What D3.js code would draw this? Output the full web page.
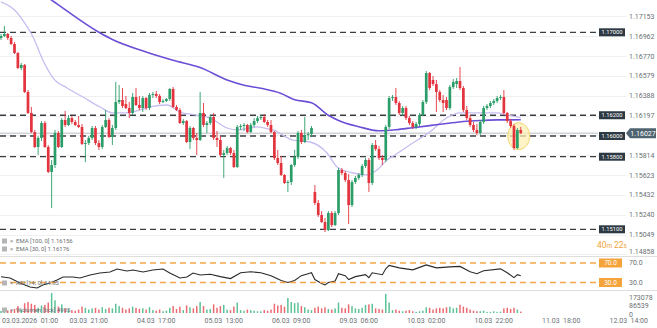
<!DOCTYPE html>
<html><head><meta charset="utf-8">
<script src="https://cdn.jsdelivr.net/npm/d3@7"></script>
<style>
body{margin:0;background:#fff}
svg{display:block;font-family:Roboto,"Noto Sans",sans-serif}
</style>
</head><body>
<svg id="chart" width="657" height="328"></svg>
<script>
// EURUSD H1 candles
const openP=[1.16945,1.16964,1.16984,1.16945,1.16887,1.168,1.16656,1.16685,1.16424,1.16222,1.16038,1.15894,1.15981,1.16125,1.15894,1.15653,1.1572,1.16029,1.15894,1.16154,1.16106,1.16173,1.16135,1.16106,1.16087,1.15923,1.15932,1.15981,1.16077,1.15932,1.15894,1.16087,1.16154,1.1599,1.16077,1.16328,1.16347,1.16308,1.1627,1.16222,1.16376,1.16299,1.1627,1.16366,1.1627,1.16395,1.16405,1.16386,1.16328,1.16337,1.16357,1.16453,1.1628,1.16251,1.16125,1.16144,1.15942,1.16077,1.15981,1.15961,1.16222,1.16106,1.16125,1.16183,1.15981,1.15961,1.15817,1.15836,1.15884,1.15836,1.15701,1.16087,1.16096,1.16106,1.16038,1.16106,1.16144,1.16173,1.16183,1.16135,1.16106,1.16038,1.15788,1.15739,1.15624,1.15547,1.15556,1.1572,1.15797,1.16029,1.15942,1.16009,1.16019,1.1546,1.15354,1.15238,1.1517,1.15093,1.15257,1.15141,1.15257,1.15672,1.15643,1.15575,1.15334,1.15556,1.15595,1.15624,1.1571,1.15768,1.15547,1.15913,1.15874,1.15788,1.15768,1.16087,1.16366,1.16376,1.16318,1.16222,1.1627,1.16173,1.16125,1.16087,1.16116,1.16202,1.16328,1.16607,1.1654,1.16501,1.16424,1.16347,1.16347,1.1627,1.16472,1.16501,1.1653,1.16463,1.16251,1.16173,1.16106,1.16058,1.16029,1.16135,1.1627,1.16289,1.16318,1.16337,1.16366,1.16376,1.16222,1.16144,1.16096,1.15884,1.16058];
const highP=[1.16984,1.17061,1.16993,1.16964,1.16906,1.1681,1.16704,1.16694,1.16443,1.1628,1.16058,1.16,1.16144,1.16144,1.15913,1.15768,1.16058,1.16048,1.16173,1.16241,1.16202,1.16193,1.16154,1.16193,1.16116,1.15961,1.16,1.16096,1.16096,1.15961,1.16106,1.16251,1.16173,1.16106,1.16521,1.16492,1.16463,1.16386,1.16328,1.16415,1.16463,1.16386,1.16386,1.16376,1.16415,1.16424,1.16434,1.16405,1.16357,1.16366,1.16463,1.16472,1.16299,1.1627,1.16164,1.16154,1.16096,1.16087,1.16029,1.16424,1.16318,1.16144,1.16202,1.16222,1.16048,1.16,1.15865,1.15903,1.15894,1.15865,1.16106,1.16116,1.16125,1.16116,1.16125,1.16173,1.16193,1.16202,1.16212,1.16154,1.16154,1.16048,1.15865,1.15807,1.15633,1.15575,1.1573,1.15865,1.16048,1.16058,1.16183,1.16038,1.16096,1.15527,1.15383,1.15276,1.15209,1.15276,1.15276,1.15276,1.15691,1.15691,1.15662,1.15633,1.15575,1.15614,1.15643,1.1573,1.15788,1.15788,1.15932,1.15961,1.15903,1.15817,1.16106,1.16386,1.16395,1.16463,1.16337,1.16289,1.16289,1.16193,1.16144,1.16135,1.16222,1.16347,1.16627,1.16617,1.16578,1.1654,1.16443,1.16395,1.16376,1.16492,1.1655,1.16559,1.16665,1.16482,1.16289,1.16202,1.16135,1.16116,1.16154,1.16289,1.16308,1.16337,1.16357,1.16386,1.16395,1.16443,1.16231,1.16164,1.16116,1.16077,1.16087];
const lowP=[1.16926,1.16955,1.16926,1.16878,1.16791,1.16646,1.16636,1.16415,1.16212,1.16029,1.15884,1.15817,1.15952,1.15884,1.15643,1.15305,1.15691,1.15884,1.15884,1.16087,1.16096,1.16116,1.16096,1.16077,1.15913,1.15749,1.15913,1.15961,1.15913,1.15865,1.15874,1.16077,1.15981,1.15913,1.16058,1.16308,1.1627,1.1626,1.16173,1.16202,1.16289,1.16251,1.16231,1.16251,1.16251,1.16366,1.16366,1.16308,1.16318,1.16328,1.16337,1.1627,1.16241,1.16116,1.16106,1.15932,1.15874,1.15961,1.15817,1.15952,1.16087,1.16029,1.16106,1.15961,1.15894,1.15797,1.15595,1.15817,1.15817,1.15691,1.15691,1.16058,1.16048,1.16029,1.16029,1.16087,1.16125,1.16154,1.16125,1.16087,1.16029,1.15768,1.1572,1.15614,1.15537,1.1546,1.15527,1.15701,1.15778,1.15923,1.15932,1.15961,1.1599,1.15334,1.15219,1.15161,1.15074,1.15083,1.15122,1.15132,1.15238,1.15624,1.15556,1.15151,1.15315,1.15537,1.15575,1.15604,1.15691,1.1546,1.15527,1.15855,1.15768,1.1572,1.15749,1.16067,1.16337,1.16299,1.16202,1.16193,1.16154,1.16106,1.16067,1.16067,1.16096,1.16193,1.16308,1.16443,1.16482,1.16231,1.16328,1.16231,1.16251,1.16251,1.16453,1.16463,1.16443,1.16231,1.16154,1.16087,1.16038,1.16009,1.16009,1.16116,1.16251,1.1627,1.16299,1.16318,1.16347,1.16202,1.16125,1.16077,1.15865,1.15874,1.16019];
const closeP=[1.16964,1.16984,1.16945,1.16887,1.168,1.16656,1.16685,1.16424,1.16222,1.16038,1.15894,1.15981,1.16125,1.15894,1.15653,1.1572,1.16029,1.15894,1.16154,1.16106,1.16173,1.16135,1.16106,1.16087,1.15923,1.15932,1.15981,1.16077,1.15932,1.15894,1.16087,1.16154,1.1599,1.16077,1.16328,1.16347,1.16289,1.1627,1.16222,1.16376,1.16299,1.1627,1.16366,1.1627,1.16395,1.16405,1.16386,1.16328,1.16337,1.16357,1.16453,1.1628,1.16251,1.16125,1.16144,1.15942,1.16077,1.15981,1.15961,1.16222,1.16106,1.16125,1.16183,1.15981,1.15961,1.15817,1.15836,1.15884,1.15836,1.15701,1.16087,1.16096,1.16106,1.16038,1.16106,1.16144,1.16173,1.16183,1.16135,1.16106,1.16038,1.15788,1.15739,1.15624,1.15547,1.15556,1.1572,1.15797,1.16029,1.15942,1.16009,1.16019,1.16077,1.15354,1.15238,1.1517,1.15093,1.15257,1.15141,1.15257,1.15672,1.15643,1.15575,1.15334,1.15556,1.15595,1.15624,1.1571,1.15768,1.15547,1.15913,1.15874,1.15788,1.15768,1.16087,1.16366,1.16376,1.16318,1.16222,1.1627,1.16173,1.16125,1.16087,1.16116,1.16202,1.16328,1.16607,1.16463,1.16501,1.16424,1.16347,1.16318,1.1627,1.16472,1.16521,1.1653,1.16463,1.16251,1.16173,1.16106,1.16058,1.16029,1.16135,1.1627,1.16289,1.16318,1.16337,1.16366,1.16376,1.16222,1.16144,1.16096,1.15884,1.16058,1.16027];

// tick volume per candle
const volume=[18000,40000,22000,28000,35000,60000,30000,85000,95000,80000,70000,45000,65000,70000,90000,173000,110000,55000,75000,40000,30000,25000,20000,30000,55000,45000,30000,40000,45000,30000,50000,35000,45000,40000,80000,60000,45000,30000,40000,55000,45000,35000,40000,30000,50000,25000,20000,30000,15000,20000,45000,60000,35000,55000,25000,65000,50000,40000,60000,95000,60000,30000,35000,75000,45000,60000,70000,30000,25000,55000,90000,25000,20000,30000,25000,20000,15000,15000,25000,20000,30000,80000,65000,70000,55000,130000,95000,85000,90000,60000,50000,30000,25000,45000,55000,40000,50000,35000,30000,40000,90000,45000,40000,75000,60000,40000,35000,45000,70000,75000,80000,40000,35000,30000,165000,90000,25000,30000,20000,15000,20000,25000,15000,10000,15000,20000,50000,45000,30000,40000,45000,40000,50000,55000,40000,45000,70000,55000,45000,30000,20000,15000,15000,20000,10000,10000,15000,10000,12000,40000,45000,35000,45000,30000,12000];

// moving averages: [candle index, value]
const ema100=[[0,1.1765],[15,1.1731],[29,1.1700],[33,1.1693],[43,1.1681],[51,1.1673],[59,1.1666],[67,1.1654],[72,1.1649],[77,1.1646],[83,1.1641],[87,1.1635],[92,1.1632],[97,1.1620],[100,1.1615],[106,1.1609],[112,1.1605],[117,1.1606],[122,1.1608],[127,1.1610],[132,1.1612],[137,1.1614],[142,1.1615],[147,1.16155],[154,1.16156]];
const ema30=[[0,1.17293],[4,1.17215],[7,1.1709],[9.5,1.16955],[12.4,1.16733],[15.4,1.1656],[19.6,1.16463],[24.3,1.16376],[29.3,1.1628],[33.2,1.16222],[37.3,1.16222],[41.2,1.16251],[44.1,1.1628],[49.2,1.16299],[53,1.16231],[58,1.16202],[62,1.16173],[67,1.16077],[70,1.16058],[76,1.16087],[78,1.16077],[80.6,1.16058],[86.5,1.15961],[91.6,1.15942],[96.6,1.15836],[99.6,1.15701],[104.3,1.15643],[108.4,1.15624],[111.4,1.15672],[114.4,1.15769],[116.7,1.15817],[122,1.15932],[127,1.16038],[132,1.16173],[136,1.16222],[142,1.16222],[147,1.16222],[150,1.16202],[154,1.16176]];

// RSI(14): [candle index, value]
const rsi14=[[0,41.9],[2.7,39.2],[5.6,29],[8.6,20.8],[10.7,18.7],[12.4,24.9],[14.5,29],[16.6,35.2],[18.4,41.3],[21.3,41.3],[23.4,39.2],[26.4,45.4],[29.3,49.5],[32.3,51.5],[34.4,57.7],[37.3,53.6],[39.1,55.6],[42.1,51.5],[45,55.6],[48,57.7],[50,49.5],[53,39.2],[55.1,41.3],[56.9,49.5],[59,45.4],[62,47],[65,42],[68,38],[71,50],[74,52],[77,50],[80,44],[83,34],[85,30],[87,34],[89,44],[91,48],[92,50],[93,36],[95,28],[96,25],[97,30],[99,33],[100,48],[102,44],[103,36],[105,42],[108,46],[109,40],[110,50],[113,46],[114,58],[115,65],[118,60],[122,56],[126,66],[129,60],[133,62],[136,63],[139,52],[141,48],[143,54],[148,58],[150,50],[152,40],[153,46],[154,44]];

const priceTicks=[1.17153,1.16962,1.16770,1.16579,1.16388,1.16197,1.16006,1.15814,1.15623,1.15432,1.15240,1.15049,1.14858];
const levels=[1.17000,1.16200,1.16000,1.15800,1.15100];
const timeTicks=[0,20,40,60,80,100,120,140,160,180];
const timeLabels=["03.03.2026  01:00","03.03  21:00","04.03  17:00","05.03  13:00","06.03  09:00","09.03  06:00","10.03  02:00","10.03  22:00","11.03  18:00","12.03  14:00"];
const lastPrice=1.16027;
const volMax=173078;

const svg=d3.select("#chart");
const W=657, plotR=598;
const green="#2b9d69", red="#e3343e";

const x=d3.scaleLinear().domain([0,180]).range([1,608.5]);
const y=d3.scaleLinear().domain([1.151,1.17]).range([229.3,32.3]);
const ry=d3.scaleLinear().domain([30,70]).range([282.5,263]);
const vy=d3.scaleLinear().domain([0,volMax]).range([313,293]);

const fmt=d3.format(".5f");

// clip regions
const defs=svg.append("defs");
defs.append("clipPath").attr("id","pclip").append("rect").attr("x",0).attr("y",0).attr("width",plotR).attr("height",256);
defs.append("clipPath").attr("id","rclip").append("rect").attr("x",0).attr("y",257).attr("width",plotR).attr("height",33);

// price grid
svg.append("g").selectAll("line").data(priceTicks).join("line")
  .attr("x1",0).attr("x2",626).attr("y1",d=>Math.round(y(d))+0.5).attr("y2",d=>Math.round(y(d))+0.5)
  .attr("stroke","#efefef").attr("stroke-width",1);

// panel separators
[256.5,290.5].forEach(v=>svg.append("line").attr("x1",0).attr("x2",W).attr("y1",v).attr("y2",v).attr("stroke","#dedede"));

const pg=svg.append("g").attr("clip-path","url(#pclip)");

// current price line
pg.append("line").attr("x1",0).attr("x2",plotR).attr("y1",y(lastPrice)).attr("y2",y(lastPrice))
  .attr("stroke","#b9bec2").attr("stroke-width",1);

// horizontal levels
pg.append("g").selectAll("line").data(levels).join("line")
  .attr("x1",0).attr("x2",plotR).attr("y1",d=>y(d)).attr("y2",d=>y(d))
  .attr("stroke","#3a3f44").attr("stroke-width",1.3).attr("stroke-dasharray","6,4");

// highlight of the latest candles
const n=closeP.length;
pg.append("ellipse").attr("cx",x(n-1.6)).attr("cy",y(lastPrice)+3).attr("rx",11).attr("ry",13.5)
  .attr("fill","#fcefb4").attr("fill-opacity",0.75).attr("stroke","#f2d670").attr("stroke-width",1);

// moving averages
const line=d3.line().x(d=>x(d[0])).y(d=>y(d[1])).curve(d3.curveMonotoneX);
pg.append("path").attr("d",line(ema30)).attr("fill","none").attr("stroke","#c8bdf0").attr("stroke-width",1.3);
pg.append("path").attr("d",line(ema100)).attr("fill","none").attr("stroke","#6c4fd6").attr("stroke-width",1.6);

// candles
const candles=d3.range(n).map(i=>({i,o:openP[i],h:highP[i],l:lowP[i],c:closeP[i]}));
const cg=pg.append("g");
cg.selectAll("line").data(candles).join("line")
  .attr("x1",d=>x(d.i)).attr("x2",d=>x(d.i)).attr("y1",d=>y(d.h)).attr("y2",d=>y(d.l))
  .attr("stroke",d=>d.c>=d.o?green:red).attr("stroke-width",0.9);
cg.selectAll("rect").data(candles).join("rect")
  .attr("x",d=>x(d.i)-1.35).attr("width",2.7)
  .attr("y",d=>y(Math.max(d.o,d.c))).attr("height",d=>Math.max(1,Math.abs(y(d.o)-y(d.c))))
  .attr("fill",d=>d.c>=d.o?green:red);

// price axis labels
const fs=7;
svg.append("g").selectAll("text").data(priceTicks.filter(d=>Math.abs(y(d)-y(lastPrice))>8)).join("text")
  .attr("x",629).attr("y",d=>Math.min(y(d),252)).attr("dy","0.35em")
  .attr("font-size",fs).attr("fill","#6b6f73").text(d=>fmt(d));

// level tags
const tg=svg.append("g");
levels.forEach(v=>{
  tg.append("rect").attr("x",599).attr("y",y(v)-4).attr("width",26).attr("height",8).attr("fill","#2e3a43");
  tg.append("text").attr("x",612).attr("y",y(v)).attr("dy","0.35em").attr("text-anchor","middle")
    .attr("font-size",5.8).attr("fill","#fff").text(fmt(v));
});

// current price tag
const cy=y(lastPrice);
svg.append("path").attr("d",`M626,${cy} L630,${cy-5} L656,${cy-5} L656,${cy+5} L630,${cy+5} Z`).attr("fill","#4f6470");
svg.append("text").attr("x",643).attr("y",cy).attr("dy","0.35em").attr("text-anchor","middle")
  .attr("font-size",7).attr("fill","#fff").text(fmt(lastPrice));

// candle countdown
const cd=svg.append("text").attr("x",597).attr("y",248).attr("fill","#f0a43a").attr("font-size",8.5);
cd.append("tspan").text("40");
cd.append("tspan").attr("font-size",6.5).text("m ");
cd.append("tspan").text("22");
cd.append("tspan").attr("font-size",6.5).text("s");

// legends
function legend(yy,label){
  const g=svg.append("g");
  g.append("rect").attr("x",2).attr("y",yy-2.5).attr("width",5).attr("height",5).attr("fill","#b5b5b5");
  g.append("text").attr("x",10).attr("y",yy).attr("dy","0.35em").attr("font-size",6).attr("fill","#888").text("\u00d7");
  g.append("text").attr("x",16).attr("y",yy).attr("dy","0.35em").attr("font-size",6).attr("fill","#6b6f73").text(label);
}
legend(241,"EMA [100, 0]  1.16156");
legend(249,"EMA [30, 0]  1.16176");

// RSI panel
const rg=svg.append("g").attr("clip-path","url(#rclip)");
[70,30].forEach(v=>{
  svg.append("line").attr("x1",0).attr("x2",plotR).attr("y1",ry(v)).attr("y2",ry(v))
    .attr("stroke","#f5a64a").attr("stroke-width",1.4).attr("stroke-dasharray","6,4");
  svg.append("rect").attr("x",599).attr("y",ry(v)-4.5).attr("width",23).attr("height",9).attr("fill","#f5a33b");
  svg.append("text").attr("x",610.5).attr("y",ry(v)).attr("dy","0.35em").attr("text-anchor","middle")
    .attr("font-size",6.5).attr("fill","#fff").text(v.toFixed(1));
  svg.append("text").attr("x",629).attr("y",ry(v)).attr("dy","0.35em").attr("font-size",fs).attr("fill","#6b6f73").text(v.toFixed(1));
});
const rline=d3.line().x(d=>x(d[0])).y(d=>ry(d[1]));
rg.append("path").attr("d",rline(rsi14)).attr("fill","none").attr("stroke","#2a2a2a").attr("stroke-width",1.1);
legend(283,"RSI [14, 0]  44.85");

// volume panel
svg.append("g").selectAll("rect").data(volume).join("rect")
  .attr("x",(d,i)=>x(i)-0.75).attr("width",1.5)
  .attr("y",d=>vy(d)).attr("height",d=>vy(0)-vy(d))
  .attr("fill",(d,i)=>closeP[i]>=openP[i]?"#5cc398":"#ec6b72");
[[volMax,297.5],[volMax/2,306],[0,314.5]].forEach(([v,yy])=>{
  svg.append("text").attr("x",629).attr("y",yy).attr("dy","0.35em").attr("font-size",fs).attr("fill","#6b6f73").text(d3.format("d")(v));
});
legend(310,"Wolumen [tick]  4905");

// time axis
svg.append("g").selectAll("text").data(timeTicks).join("text")
  .attr("x",d=>x(d)+1).attr("y",321).attr("dy","0.35em").attr("font-size",fs).attr("fill","#6b6f73")
  .attr("xml:space","preserve").text((d,i)=>timeLabels[i]);
</script>
</body></html>
